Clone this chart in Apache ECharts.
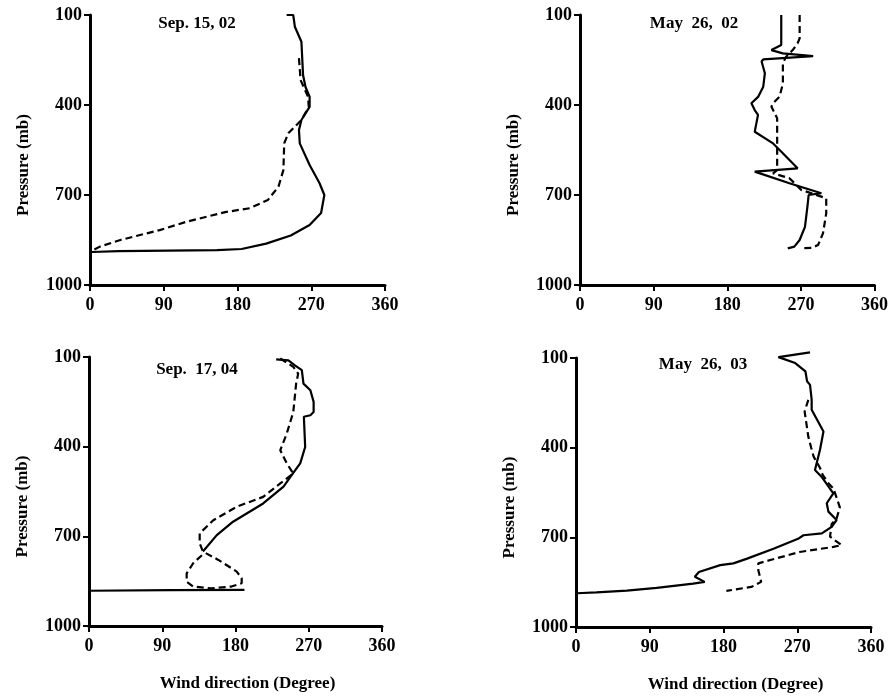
<!DOCTYPE html>
<html>
<head>
<meta charset="utf-8">
<script src="https://cdn.jsdelivr.net/npm/echarts@6/dist/echarts.min.js"></script>
<style>html,body{margin:0;padding:0;background:#fff;}#c{width:891px;height:697px;}</style>
</head>
<body>
<div id="c"></div>
<script>
// Panel titles
const panelTitles = ['Sep. 15, 02', 'May  26,  02', 'Sep.  17, 04', 'May  26,  03'];
// Axis ticks
const xTicks = [0, 90, 180, 270, 360];
const yTicks = [100, 400, 700, 1000];
const xName = 'Wind direction (Degree)';
const yName = 'Pressure (mb)';

// [wind direction (deg), pressure (mb)]
const sep1502Solid = [[240,100],[248,100],[250,139],[258,189],[260,300],[263,340],[268,372],[268,406],[258,450],[255,483],[256,528],[268,600],[280,660],[286,700],[282,760],[268,800],[245,835],[215,862],[185,880],[155,884],[35,887],[2,890]];
const sep1502Dashed = [[255,244],[257,317],[266,372],[267,406],[258,450],[242,494],[237,528],[236,617],[230,672],[217,717],[195,744],[165,757],[118,789],[85,817],[37,850],[12,872],[3,885]];

const may2602Solid = [[246,100],[246,200],[234,217],[248,228],[285,237],[224,248],[222,255],[226,294],[224,339],[218,372],[209.5,394],[213.6,417],[217.6,433],[213.6,489],[236,528],[244,550],[266,611],[213.6,622],[256,661],[295,694],[279.5,700],[278,739],[275,806],[268.5,850],[262,872],[254,878]];
const may2602Dashed = [[268.5,100],[268.5,178],[266,194],[260,217],[252,239],[248,261],[248,328],[244,372],[236,394],[234,406],[241,444],[241,617],[236,628],[256,644],[270.5,683],[301,711],[301,761],[297,828],[291,867],[283,876],[270.5,878]];

const sep1704Solid = [[230,108],[245,111],[253,128],[261.5,144],[263.5,189],[272,211],[276,250],[276,284],[272,295],[264,300],[265.6,401],[259.5,456],[249,495],[239,534],[214,590],[177,651],[157,696],[140,751],['-','-'],[191,879],[100,880],[0,882]];
const sep1704Dashed = [[235,105],[251,133],[257,156],[254.5,189],[251,284],[243,356],[235,412],[243,456],[251,490],[235,523],[214,568],[181.5,601],[152.7,646],[136,690],[136,723],[140,751],[159,779],[181.5,818],[187.6,840],[187.6,857],[175,868],[150,874],[128,868],[120,852],[120,824],[128,790],[140,760]];

const may2603Solid = [[285.6,81],[247,97],[267.5,117],[280,145],[282,178],[285.6,190],[287.6,240],[287.6,273],[302,346],[297.7,408],[291.6,475],[299.6,497],[314,553],[306,586],[308,614],[318,642],[312,665],[300,687],[277.5,693],[271,705],[241,738],[208,772],[192,787],[176,793],[150,816],[145,832],[157,849],[143,855],[98.5,869],[62,878],[25,884],[1,887]];
const may2603Dashed = [[283.5,240],[279,279],[283.5,363],[287,400],[290,430],[298,469],[301,491],[308,519],[314,536],[319,575],[322,600],[318,637],[312,655],[310,698],[324,726],[314,732],[273,749],[237,776],[222.5,787],[222.5,810],[226,849],[214,866],[183.5,879]];

const solids = [sep1502Solid, may2602Solid, sep1704Solid, may2603Solid];
const dasheds = [sep1502Dashed, may2602Dashed, sep1704Dashed, may2603Dashed];

const FONT = 'Liberation Serif';
const grids = [
  {left: 90, top: 15, width: 295, height: 270},
  {left: 580, top: 15, width: 295, height: 270},
  {left: 89, top: 357, width: 293, height: 269},
  {left: 576, top: 358, width: 295, height: 269}
];
const titlePos = [[197,15],[694,15],[197,361],[703,356]];

const axisLine = {show: true, lineStyle: {color: '#000', width: 3}};
const axisTick = {show: true, inside: false, length: 6, lineStyle: {color: '#000', width: 2}};
const labelStyle = {color: '#000', fontFamily: FONT, fontWeight: 'bold', fontSize: 18, formatter: v => String(v)};

const xAxes = grids.map((g, i) => ({
  type: 'value', gridIndex: i, min: xTicks[0], max: xTicks[xTicks.length-1], interval: 90,
  axisLine, axisTick, splitLine: {show: false},
  axisLabel: Object.assign({margin: 11}, labelStyle),
  name: i >= 2 ? xName : '', nameLocation: 'middle', nameGap: 49,
  nameTextStyle: {color: '#000', fontFamily: FONT, fontWeight: 'bold', fontSize: 17, padding: [0, 0, 0, 24]}
}));
const yAxes = grids.map((g, i) => ({
  type: 'value', gridIndex: i, min: yTicks[0], max: yTicks[yTicks.length-1], interval: 300, inverse: true,
  axisLine, axisTick, splitLine: {show: false},
  axisLabel: Object.assign({margin: 8}, labelStyle),
  name: yName, nameLocation: 'middle', nameGap: 58, nameRotate: 90,
  nameTextStyle: {color: '#000', fontFamily: FONT, fontWeight: 'bold', fontSize: 17, padding: [0, 30, 0, 0]}
}));

const series = [];
for (let i = 0; i < 4; i++) {
  series.push({type: 'line', xAxisIndex: i, yAxisIndex: i, data: solids[i], symbol: 'none', clip: false,
    connectNulls: false, lineStyle: {color: '#000', width: 2.2}, silent: true, animation: false});
  series.push({type: 'line', xAxisIndex: i, yAxisIndex: i, data: dasheds[i], symbol: 'none', clip: false,
    lineStyle: {color: '#000', width: 2.2, type: [7, 4]}, silent: true, animation: false});
}

const chart = echarts.init(document.getElementById('c'), null, {renderer: 'canvas'});
chart.setOption({
  backgroundColor: '#fff',
  animation: false,
  title: panelTitles.map((t, i) => ({
    text: t, left: titlePos[i][0], top: titlePos[i][1], textAlign: 'center', padding: 0,
    textStyle: {color: '#000', fontFamily: FONT, fontWeight: 'bold', fontSize: 17}
  })),
  grid: grids,
  xAxis: xAxes,
  yAxis: yAxes,
  series
});
</script>
</body>
</html>
